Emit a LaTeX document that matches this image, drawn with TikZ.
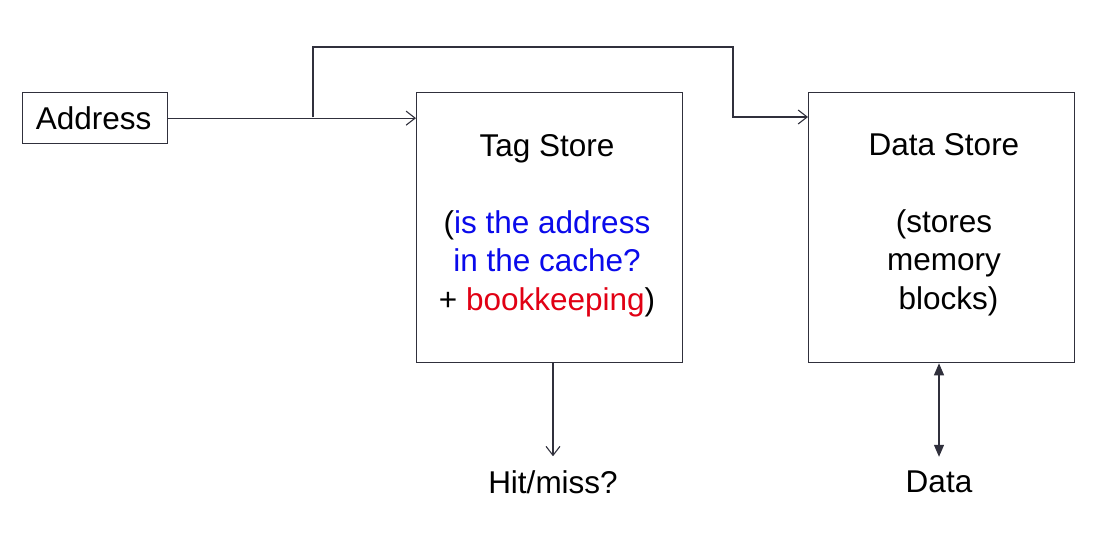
\documentclass[tikz,border=0pt]{standalone}
\usepackage{fontspec}
\setmainfont{Liberation Sans}
\usetikzlibrary{arrows.meta}
\definecolor{linec}{HTML}{30303C}
\definecolor{tblue}{RGB}{10,10,235}
\definecolor{tred}{RGB}{225,0,20}
\tikzset{
  box/.style={draw=linec, line width=1.3pt, inner sep=0pt, fill=white},
  lbl/.style={inner sep=0pt, align=center, font=\fontsize{31.5}{38.5}\selectfont},
  conn/.style={draw=linec, line width=1.2pt},
  openarr/.style={-{Straight Barb[length=9pt,width=14pt,line width=1.1pt]}},
  solidarr/.style={{Triangle[length=12pt,width=10pt]}-{Triangle[length=12pt,width=10pt]}}
}
\begin{document}
\begin{tikzpicture}[x=1pt,y=-1pt]
\useasboundingbox (0,0) rectangle (1107,537);
\node[box, minimum width=145pt, minimum height=51pt, anchor=north west] (addr) at (21.5,92) {};
\node[lbl] (addrtxt) at ([xshift=-1pt]addr.center) {Address};
\node[box, minimum width=266pt, minimum height=270pt, anchor=north west] (tag) at (416,92) {};
\node[box, minimum width=266pt, minimum height=270pt, anchor=north west] (data) at (808,92) {};
\node[lbl, anchor=north] (tagtxt) at (547,134) {Tag Store\\[38.5pt]({\color{tblue}is the address}\\{\color{tblue}in the cache?}\\+ {\color{tred}bookkeeping})};
\node[lbl, anchor=north] (datatxt) at (944,133) {Data Store\\[38.5pt](stores\\memory\\\ blocks)};
\node[lbl, inner ysep=14pt] (hit) at (553,482) {Hit/miss?};
\node[lbl, inner ysep=14pt] (dat) at (939,482) {Data};
\coordinate (branch) at (313,117.5);
\coordinate (tl) at (313,47);
\coordinate (tr) at (733,47);
\coordinate (br) at (733,117);
\draw[conn, openarr] (addr.east) -- (tag.west |- addr.east);
\draw[conn, openarr] (branch) -- (tl) -- (tr) -- (br) -- (data.west |- br);
\draw[conn, openarr] (tag.south -| hit) -- (hit.north);
\draw[conn, solidarr] (data.south -| dat) -- (dat.north);
\end{tikzpicture}
\end{document}
